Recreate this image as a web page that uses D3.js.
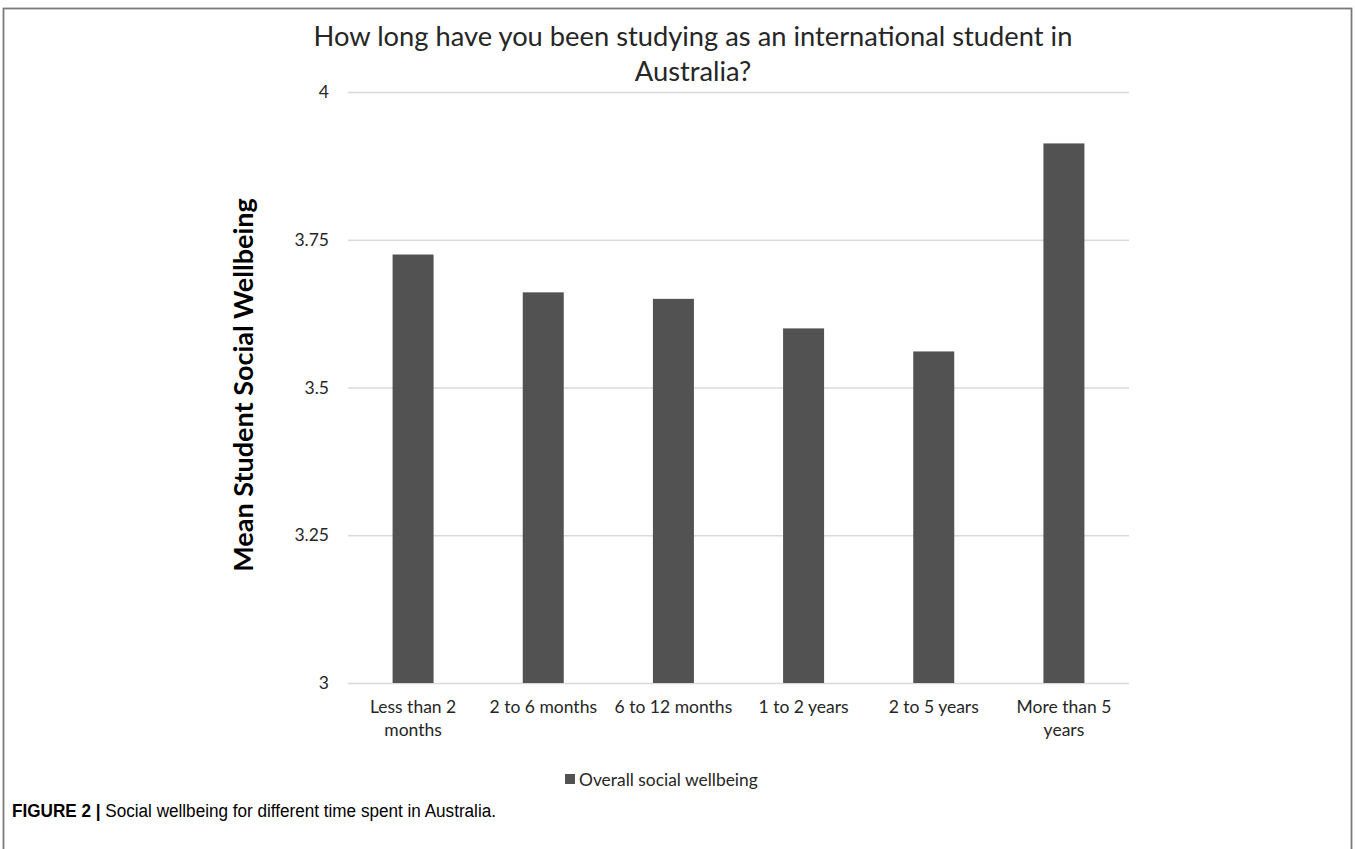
<!DOCTYPE html>
<html>
<head>
<meta charset="utf-8">
<script src="https://cdn.jsdelivr.net/npm/d3@7"></script>
<style>
  body { margin: 0; background: #fff; }
  svg { display: block; }
</style>
</head>
<body>
<svg id="chart" width="1355" height="849"></svg>
<script>
// chart data
const categories = ["Less than 2 months", "2 to 6 months", "6 to 12 months", "1 to 2 years", "2 to 5 years", "More than 5 years"];
const wellbeing = [3.725, 3.661, 3.650, 3.600, 3.561, 3.913];
const yTicks = [3, 3.25, 3.5, 3.75, 4];
const seriesName = "Overall social wellbeing";
const titleLines = ["How long have you been studying as an international student in", "Australia?"];
const yLabel = "Mean Student Social Wellbeing";

const svg = d3.select("#chart");
const font = "Lato, 'Open Sans', sans-serif";

//outer frame of the figure
svg.append("rect")
    .attr("x", 3.5).attr("y", 8.5)
    .attr("width", 1348).attr("height", 860)
    .attr("fill", "none")
    .attr("stroke", "#7a7a7a")
    .attr("stroke-width", 1.8);

//plot area
const margin = {top: 92, right: 226, bottom: 166, left: 348};
const width = 1355;
const height = 849;

const x = d3.scaleBand()
    .domain(categories)
    .range([margin.left, width - margin.right])
    .paddingInner(0.685)
    .paddingOuter(0.3425);

const y = d3.scaleLinear()
    .domain([3, 4])
    .range([height - margin.bottom, margin.top]);

//gridlines + tick labels
const yAxis = svg.append("g")
    .attr("transform", `translate(${margin.left},0)`)
    .call(d3.axisLeft(y)
        .tickValues(yTicks)
        .tickFormat(d => String(d))
        .tickSize(-(width - margin.right - margin.left))
        .tickPadding(19));
yAxis.select(".domain").remove();
yAxis.selectAll(".tick line")
    .attr("stroke", "#d9d9d9")
    .attr("stroke-width", 1.6);
yAxis.selectAll(".tick text")
    .attr("fill", "#262626")
    .style("font", `17.5px ${font}`);

//bars
svg.append("g")
    .attr("fill", "#525252")
    .selectAll("rect")
    .data(categories)
    .join("rect")
        .attr("x", d => x(d))
        .attr("y", (d, i) => y(wellbeing[i]))
        .attr("width", x.bandwidth())
        .attr("height", (d, i) => y(3) - y(wellbeing[i]));

//category labels, wrapped when wider than the band step
const catG = svg.append("g")
    .attr("fill", "#262626")
    .attr("text-anchor", "middle")
    .style("font", `17.5px ${font}`);
categories.forEach(c => {
    const cx = x(c) + x.bandwidth() / 2;
    const t = catG.append("text").attr("x", cx).attr("y", 713);
    const words = c.split(" ");
    let line = [];
    let tspan = t.append("tspan").attr("x", cx).attr("y", 713);
    let lineNo = 0;
    words.forEach(w => {
        line.push(w);
        tspan.text(line.join(" "));
        if (tspan.node().getComputedTextLength() > x.step() - 6 && line.length > 1) {
            line.pop();
            tspan.text(line.join(" "));
            line = [w];
            lineNo++;
            tspan = t.append("tspan").attr("x", cx).attr("y", 713 + lineNo * 23).text(w);
        }
    });
});

//title
svg.append("g")
    .attr("fill", "#262626")
    .attr("text-anchor", "middle")
    .style("font", `27.3px ${font}`)
    .selectAll("text")
    .data(titleLines)
    .join("text")
        .attr("x", 693)
        .attr("y", (d, i) => 46 + i * 35)
        .text(d => d);

//y axis title
svg.append("text")
    .attr("transform", "translate(253,385) rotate(-90)")
    .attr("text-anchor", "middle")
    .attr("fill", "#000")
    .style("font", `bold 27px ${font}`)
    .text(yLabel);

//legend
const legend = svg.append("g").attr("transform", "translate(565,774)");
legend.append("rect")
    .attr("width", 10).attr("height", 10)
    .attr("fill", "#525252");
legend.append("text")
    .attr("x", 14).attr("y", 12)
    .attr("fill", "#262626")
    .style("font", `17.4px ${font}`)
    .text(seriesName);

//caption
const cap = svg.append("text")
    .attr("x", 12).attr("y", 817)
    .attr("fill", "#000")
    .style("font", "18px 'Liberation Sans', Arial, sans-serif");
cap.append("tspan").attr("font-weight", "bold").text("FIGURE 2 | ");
cap.append("tspan").text("Social wellbeing for different time spent in Australia.");
cap.attr("textLength", 484).attr("lengthAdjust", "spacingAndGlyphs");
</script>
</body>
</html>
